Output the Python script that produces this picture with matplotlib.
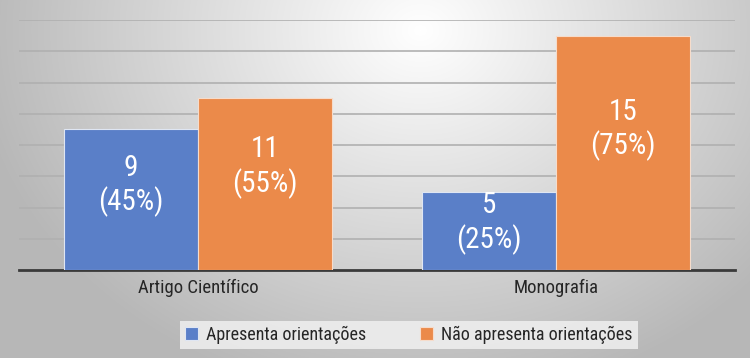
import numpy as np
import matplotlib
matplotlib.use("Agg")
import matplotlib.pyplot as plt
from matplotlib import font_manager

# dados
categorias = ['Artigo Científico', 'Monografia']
apresenta = [9, 5]
nao_apresenta = [11, 15]
pct_apresenta = [45, 25]
pct_nao = [55, 75]
series = ['Apresenta orientações', 'Não apresenta orientações']

# fonte estreita se existir
nomes = {f.name for f in font_manager.fontManager.ttflist}
fonte = 'DejaVu Sans'
for f in ['Liberation Sans Narrow', 'Roboto Condensed', 'Liberation Sans']:
    if f in nomes:
        fonte = f
        break
plt.rcParams['font.family'] = [fonte, 'DejaVu Sans']

fig = plt.figure(figsize=(7.5, 3.58), dpi=100)

# fundo com gradiente radial
bg = fig.add_axes([0, 0, 1, 1], zorder=0)
yy, xx = np.mgrid[0:358, 0:750]
d = np.sqrt(((xx - 420) / 480.0) ** 2 + ((yy - 30) / 400.0) ** 2)
v = np.clip(1.0 - 0.3 * d, 0.72, 1.0)
bg.imshow(np.dstack([v, v, v]), aspect='auto', extent=[0, 1, 0, 1])
bg.axis('off')

ax = fig.add_axes([19 / 750, 1 - 270 / 358, 716 / 750, 250 / 358], zorder=1)
ax.patch.set_alpha(0)

x = np.arange(len(categorias))
w = 0.375
azul = '#5A7FC8'
laranja = '#EB8A4A'

b1 = ax.bar(x - w / 2, apresenta, w, color=azul, edgecolor='#dfe6f3', linewidth=0.8,
            label=series[0], zorder=3)
b2 = ax.bar(x + w / 2, nao_apresenta, w, color=laranja, edgecolor='#f6dccb', linewidth=0.8,
            label=series[1], zorder=3)

for rects, vals, pcts in [(b1, apresenta, pct_apresenta), (b2, nao_apresenta, pct_nao)]:
    for r, val, p in zip(rects, vals, pcts):
        ax.text(r.get_x() + r.get_width() / 2, r.get_height() * 0.6,
                f'{val}\n({p}%)', ha='center', va='center', color='white',
                fontsize=21, linespacing=1.2, zorder=4)

ax.set_xlim(-0.5, 1.5)
ax.set_ylim(0, 16)
ax.set_yticks(np.arange(2, 17, 2))
ax.yaxis.grid(True, color='#b0b0b0', linewidth=1.2, zorder=1)
ax.tick_params(axis='y', left=False, labelleft=False)
ax.tick_params(axis='x', bottom=False, labelsize=13.5, pad=3, colors='#262626')
ax.set_xticks(x)
ax.set_xticklabels(categorias)
for s in ['top', 'right', 'left']:
    ax.spines[s].set_visible(False)
ax.spines['bottom'].set_color('#3a3a3a')
ax.spines['bottom'].set_linewidth(2)

leg = fig.legend(loc='center', bbox_to_anchor=(0.545, 1 - 335 / 358), ncol=2,
                 fontsize=13, frameon=True, facecolor='#f0f0f0', edgecolor='none',
                 handlelength=0.7, handleheight=0.7, columnspacing=3.0, handletextpad=0.45,
                 borderpad=0.3, fancybox=False)
leg.get_frame().set_alpha(0.85)
for t in leg.get_texts():
    t.set_color('#262626')

fig.savefig('out.png', dpi=100)
